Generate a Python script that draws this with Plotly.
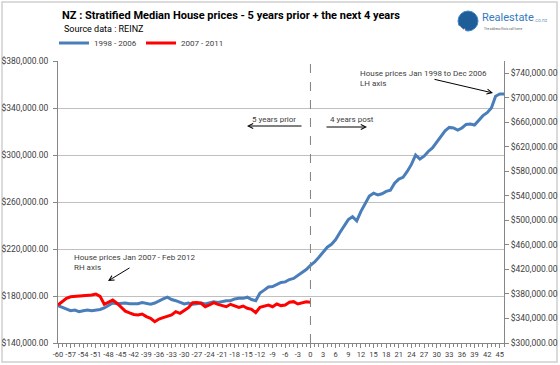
import plotly.graph_objects as go

# ---- data ----
months_1998_2006 = list(range(-60, 47))
prices_1998_2006 = [
    171.7, 170.5, 169.0, 167.5, 168.0, 166.6, 167.5, 168.0, 167.5, 168.0,
    168.5, 169.8, 172.0, 174.0, 173.5, 174.0, 174.0, 173.5, 173.2, 173.5,
    174.5, 174.0, 173.0, 174.0, 176.0, 177.5, 179.0, 177.0, 176.0, 174.5,
    173.2, 174.0, 173.0, 173.5, 174.0, 173.2, 174.0, 175.0, 174.5, 175.5,
    176.0, 176.0, 177.5, 178.0, 178.0, 179.0, 177.0, 176.0, 182.6, 185.0,
    187.7, 188.0, 190.0, 191.5, 192.0, 194.0, 195.0, 197.5, 200.7, 202.5,
    206.0, 209.0, 213.0, 217.0, 221.5, 224.0, 228.0, 234.0, 240.0, 245.0,
    247.5, 244.0, 252.0, 258.0, 265.0, 267.5, 266.0, 267.0, 269.0, 270.0,
    276.0, 279.5, 281.0, 286.0, 292.0, 300.0, 296.6, 299.0, 303.0, 306.0,
    311.0, 316.0, 320.5, 323.5, 323.0, 321.2, 323.0, 326.0, 326.4, 325.5,
    330.0, 333.5, 336.0, 340.0, 350.0, 352.0, 352.0,
]
months_2007_2011 = list(range(-60, 1))
prices_2007_2011 = [
    362.0, 368.0, 373.0, 375.5, 376.0, 376.7, 377.0, 377.5, 378.3, 379.9,
    376.0, 363.1, 367.0, 370.0, 364.8, 358.0, 352.0, 349.0, 346.5, 345.7,
    347.3, 343.0, 340.3, 334.7, 339.0, 341.3, 343.0, 345.7, 351.1, 348.4,
    353.0, 357.6, 365.7, 366.0, 364.8, 359.2, 362.0, 365.7, 363.1, 361.0,
    359.2, 363.1, 360.0, 358.2, 360.3, 356.6, 355.0, 349.4, 358.2, 360.0,
    362.0, 359.2, 363.6, 361.0, 362.0, 366.4, 367.4, 363.6, 366.0, 367.4,
    366.4,
]
x_tick_vals = [-60, -57, -54, -51, -48, -45, -42, -39, -36, -33, -30, -27, -24,
               -21, -18, -15, -12, -9, -6, -3, 0, 3, 6, 9, 12, 15, 18, 21, 24,
               27, 30, 33, 36, 39, 42, 45]
x_tick_text = [str(v) for v in x_tick_vals]
left_ticks = [140000, 180000, 220000, 260000, 300000, 340000, 380000]
right_ticks = [300000, 340000, 380000, 420000, 460000, 500000, 540000,
               580000, 620000, 660000, 700000, 740000]

W, H = 560, 365
L, R, T, B = 58, 56, 61, 22
PW, PH = W - L - R, H - T - B


def px(x):
    return (x - L) / PW


def py(y):
    return (H - B - y) / PH


FONT = "Roboto, Arial, sans-serif"
TXT = "#404040"

fig = go.Figure()
fig.add_trace(go.Scatter(
    x=months_1998_2006, y=[v * 1000 for v in prices_1998_2006],
    mode="lines", name="1998 - 2006",
    line=dict(color="#4a7ebb", width=3), yaxis="y"))
fig.add_trace(go.Scatter(
    x=months_2007_2011, y=[v * 1000 for v in prices_2007_2011],
    mode="lines", name="2007 - 2011",
    line=dict(color="#ff0000", width=3), yaxis="y2"))

axis_common = dict(showline=True, linecolor="#868686", linewidth=1,
                   ticks="outside", ticklen=4, tickcolor="#868686",
                   zeroline=False, automargin=False)

fig.update_layout(
    width=W, height=H,
    margin=dict(l=L, r=R, t=T, b=B),
    paper_bgcolor="white", plot_bgcolor="white",
    font=dict(family=FONT, color=TXT),
    template="none",
    title=dict(
        text="<b>NZ : Stratified Median House prices - 5 years prior + the next 4 years</b>",
        x=px(62), xref="paper", xanchor="left",
        y=1 - 15 / H, yref="container", yanchor="middle",
        font=dict(family=FONT, size=11, color="#000000")),
    xaxis=dict(range=[-60, 46], tickvals=x_tick_vals, ticktext=x_tick_text,
               tickangle=0, showgrid=False,
               tickfont=dict(family=FONT, size=7.5, color="#404040"),
               minor=dict(ticks="outside", dtick=1, ticklen=3, tickcolor="#868686"),
               **axis_common),
    yaxis=dict(range=[140000, 380000], tickvals=left_ticks, tickformat="$,.2f",
               showgrid=True, gridcolor="#c0c0c0", gridwidth=1,
               ticklabelstandoff=3,
               tickfont=dict(family=FONT, size=8.5, color="#404040"),
               **axis_common),
    yaxis2=dict(range=[300000, 760000], tickvals=right_ticks, tickformat="$,.2f",
                overlaying="y", side="right", showgrid=False,
                tickfont=dict(family=FONT, size=8.5, color="#404040"),
                **axis_common),
    legend=dict(orientation="h", x=px(54), xanchor="left",
                y=1 - 43 / H, yref="container", yanchor="middle",
                font=dict(family=FONT, size=8, color=TXT),
                itemwidth=30, entrywidth=42, entrywidthmode="pixels",
                bgcolor="rgba(0,0,0,0)"),
    showlegend=True,
)

# vertical dashed divider at month 0
fig.add_shape(type="line", xref="x", yref="paper", x0=0, x1=0, y0=0, y1=1,
              line=dict(color="#808080", width=1, dash="dash"))

# outer chart border
fig.add_shape(type="rect", xref="paper", yref="paper",
              x0=px(2), x1=px(557), y0=py(362), y1=py(2),
              line=dict(color="#d0d0d0", width=1.5), layer="below")

ann = []
ann.append(dict(text="Source data : REINZ", x=px(62), y=py(29), xref="paper", yref="paper",
                xanchor="left", yanchor="middle", showarrow=False,
                font=dict(family=FONT, size=9, color="#000000")))


def label(text, x, y, size=8):
    return dict(text=text, x=px(x), y=py(y), xref="paper", yref="paper",
                xanchor="left", yanchor="middle", showarrow=False, align="left",
                font=dict(family=FONT, size=size, color=TXT))


def arrow(x_tail, y_tail, x_head, y_head):
    return dict(text="", x=px(x_head), y=py(y_head), xref="paper", yref="paper",
                ax=x_tail - x_head, ay=y_tail - y_head, axref="pixel", ayref="pixel",
                showarrow=True, arrowhead=5, arrowsize=1, arrowwidth=1, arrowcolor="#000000")


ann.append(label("5 years prior", 250, 119))
ann.append(arrow(303, 126, 247, 126))
ann.append(label("4 years post", 328, 119))
ann.append(arrow(325, 127, 367, 127))
ann.append(label("House prices Jan 1998 to Dec 2006<br>LH axis", 358, 78))
ann.append(arrow(433, 79, 493, 93))
ann.append(label("House prices Jan 2007 - Feb 2012<br>RH axis", 72, 262))
ann.append(arrow(131, 267, 108, 281))

# logo
fig.add_shape(type="circle", xref="paper", yref="paper",
              x0=px(458), x1=px(478), y0=py(31), y1=py(11),
              fillcolor="#1f5d99", line=dict(color="#3d86c6", width=1))
ann.append(dict(text="<b>↘</b>", x=px(468), y=py(21), xref="paper", yref="paper",
                showarrow=False, font=dict(family="DejaVu Sans", size=11, color="white")))
ann.append(dict(text="Realestate", x=px(480), y=py(18), xref="paper", yref="paper",
                xanchor="left", yanchor="middle", showarrow=False,
                font=dict(family=FONT, size=11, color="#3479c0")))
ann.append(dict(text=".co.nz", x=px(532), y=py(20), xref="paper", yref="paper",
                xanchor="left", yanchor="middle", showarrow=False,
                font=dict(family=FONT, size=5, color="#7a9cc4")))
ann.append(dict(text="The address Kiwis call home", x=px(482), y=py(29), xref="paper", yref="paper",
                xanchor="left", yanchor="middle", showarrow=False,
                font=dict(family=FONT, size=3, color="#666666")))

fig.update_layout(annotations=ann)
fig.write_html("out.html", config={"displayModeBar": False},
               post_script="document.body.style.margin='0';document.body.style.overflow='hidden';")
